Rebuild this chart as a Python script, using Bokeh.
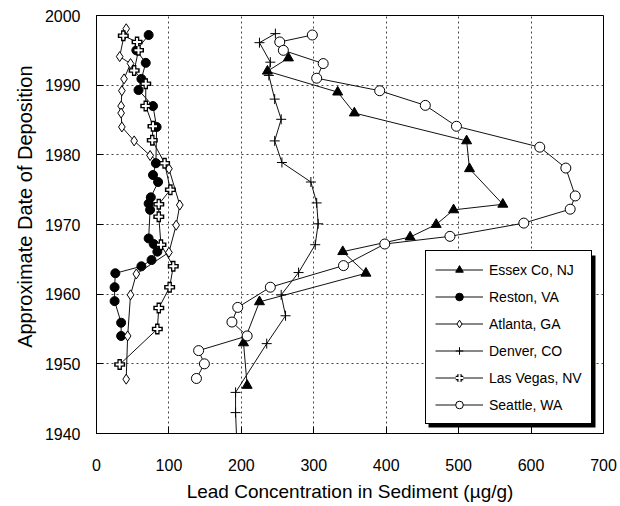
from bokeh.plotting import figure
from bokeh.models import Range1d, FixedTicker, Legend, LegendItem, BoxAnnotation, Title
from bokeh.embed import file_html
from bokeh.resources import INLINE

# ---- data ----
x_ticks = [0, 100, 200, 300, 400, 500, 600, 700]
y_ticks = [1940, 1950, 1960, 1970, 1980, 1990, 2000]

essex_pb = [265, 236, 333, 356, 511, 515, 561, 493, 469, 433, 340, 372, 225, 203, 208]
essex_yr = [1993.9, 1992.0, 1989.0, 1986.0, 1982.0, 1978.0, 1972.9, 1972.1, 1970.0, 1968.2,
            1966.1, 1963.0, 1958.9, 1953.0, 1946.9]

reston_pb = [72, 55, 68, 62, 58, 78, 83, 82, 78, 85, 75, 72, 74, 72, 79, 84, 76, 62, 26, 25, 25, 34, 34]
reston_yr = [1997.2, 1995.0, 1993.2, 1990.9, 1989.3, 1987.0, 1984.0, 1978.8, 1977.1, 1976.1,
             1973.9, 1973.0, 1972.1, 1968.0, 1967.2, 1966.1, 1964.9, 1964.0, 1963.0, 1961.0,
             1959.0, 1955.9, 1954.0]

atlanta_pb = [41, 38, 32, 47, 38, 35, 34, 34, 35, 52, 74, 100, 115, 110, 100, 55, 47, 43, 41]
atlanta_yr = [1998.1, 1997.1, 1994.1, 1993.1, 1990.9, 1989.2, 1987.0, 1986.0, 1984.0, 1982.0,
              1979.9, 1978.0, 1972.8, 1969.9, 1966.0, 1962.9, 1959.9, 1954.0, 1947.8]

denver_pb = [247, 225, 240, 238, 246, 255, 246, 256, 296, 304, 306, 302, 279, 255, 261, 235, 192, 192, 194]
denver_yr = [1997.4, 1996.1, 1993.3, 1991.4, 1988.0, 1985.1, 1982.0, 1978.9, 1976.1, 1973.1,
             1970.1, 1967.1, 1963.1, 1959.9, 1956.9, 1952.9, 1945.9, 1943.0, 1938.0]

lasvegas_pb = [37, 56, 58, 52, 68, 68, 78, 77, 94, 102, 86, 86, 89, 106, 101, 86, 84, 32]
lasvegas_yr = [1997.1, 1996.2, 1995.0, 1992.1, 1990.2, 1987.0, 1984.1, 1982.1, 1978.8, 1975.0,
               1972.9, 1971.1, 1967.1, 1964.0, 1961.0, 1958.0, 1955.0, 1949.9]

seattle_pb = [298, 253, 258, 313, 304, 391, 454, 497, 612, 648, 661, 654, 590, 488, 398, 341,
              240, 195, 187, 208, 141, 149, 138]
seattle_yr = [1997.2, 1996.2, 1995.0, 1993.1, 1991.0, 1989.2, 1987.1, 1984.1, 1981.1, 1978.1,
              1974.1, 1972.2, 1970.2, 1968.3, 1967.2, 1964.1, 1961.0, 1958.1, 1956.0, 1954.0,
              1951.9, 1950.0, 1947.9]

labels = ["Essex Co, NJ", "Reston, VA", "Atlanta, GA", "Denver, CO", "Las Vegas, NV", "Seattle, WA"]
x_title = "Lead Concentration in Sediment (\u00b5g/g)"
y_title = "Approximate Date of Deposition"

FONT = "Liberation Sans"
INK = "#111111"

p = figure(width=618, height=504, x_range=Range1d(0, 700), y_range=Range1d(1940, 2000),
           output_backend="svg", toolbar_location=None,
           min_border_left=96, min_border_top=15, min_border_right=15, min_border_bottom=70)
p.outline_line_color = "black"
p.outline_line_width = 1

for ax, ticks in ((p.xaxis, x_ticks), (p.yaxis, y_ticks)):
    ax.ticker = FixedTicker(ticks=ticks)
    ax.major_tick_in = 7
    ax.major_tick_out = 0
    ax.minor_tick_line_color = None
    ax.axis_line_color = "black"
    ax.major_tick_line_color = "black"
    ax.major_label_text_font = FONT
    ax.major_label_text_font_size = "16px"
    ax.major_label_text_color = "black"
    ax.axis_label_text_font = FONT
    ax.axis_label_text_font_size = "19px"
    ax.axis_label_text_font_style = "normal"
    ax.axis_label_text_color = "black"

p.xaxis.axis_label = x_title
p.xaxis.major_label_standoff = 25
p.xaxis.axis_label_standoff = 7
p.yaxis.major_label_standoff = 16

p.add_layout(Title(text=y_title, align="right", offset=50, vertical_align="middle",
                   text_font=FONT, text_font_size="20px", text_font_style="normal",
                   text_color="black", standoff=10), "left")

p.grid.grid_line_color = "#444444"
p.grid.grid_line_dash = "2 3"
p.grid.grid_line_width = 1

items = []

l = p.line(essex_pb, essex_yr, line_color=INK, line_width=1)
s = p.scatter(essex_pb, essex_yr, marker="triangle", size=10, fill_color="black", line_color="black")
items.append(LegendItem(label=labels[0], renderers=[l, s]))

l = p.line(reston_pb, reston_yr, line_color=INK, line_width=1)
s = p.scatter(reston_pb, reston_yr, marker="circle", size=9, fill_color="black", line_color="black")
items.append(LegendItem(label=labels[1], renderers=[l, s]))

l = p.line(atlanta_pb, atlanta_yr, line_color=INK, line_width=1)
s = p.scatter(atlanta_pb, atlanta_yr, marker="diamond", size=10, fill_color="white", line_color="black")
items.append(LegendItem(label=labels[2], renderers=[l, s]))

l = p.line(denver_pb, denver_yr, line_color=INK, line_width=1)
s = p.scatter(denver_pb, denver_yr, marker="cross", size=10, line_color="black", line_width=1)
items.append(LegendItem(label=labels[3], renderers=[l, s]))

l = p.line(lasvegas_pb, lasvegas_yr, line_color=INK, line_width=1)
s1 = p.scatter(lasvegas_pb, lasvegas_yr, marker="cross", size=11, line_color="black", line_width=4.5)
s2 = p.scatter(lasvegas_pb, lasvegas_yr, marker="cross", size=8, line_color="white", line_width=2)
items.append(LegendItem(label=labels[4], renderers=[l, s1, s2]))

l = p.line(seattle_pb, seattle_yr, line_color=INK, line_width=1)
s = p.scatter(seattle_pb, seattle_yr, marker="circle", size=10, fill_color="white", line_color="black")
items.append(LegendItem(label=labels[5], renderers=[l, s]))

shadow = BoxAnnotation(left=332, right=499, bottom=6, top=178,
                       left_units="screen", right_units="screen",
                       bottom_units="screen", top_units="screen",
                       fill_color="black", fill_alpha=1, line_color=None)
p.add_layout(shadow)

legend = Legend(items=items, location=(329, 9), margin=0, padding=9,
                glyph_width=48, glyph_height=19, label_height=19, spacing=8,
                label_standoff=6, label_text_font=FONT, label_text_font_size="14px",
                label_text_color="black", border_line_color="black", border_line_width=1,
                border_line_alpha=1, background_fill_color="white", background_fill_alpha=1)
p.add_layout(legend)

open("out.html", "w").write(file_html(p, INLINE))
